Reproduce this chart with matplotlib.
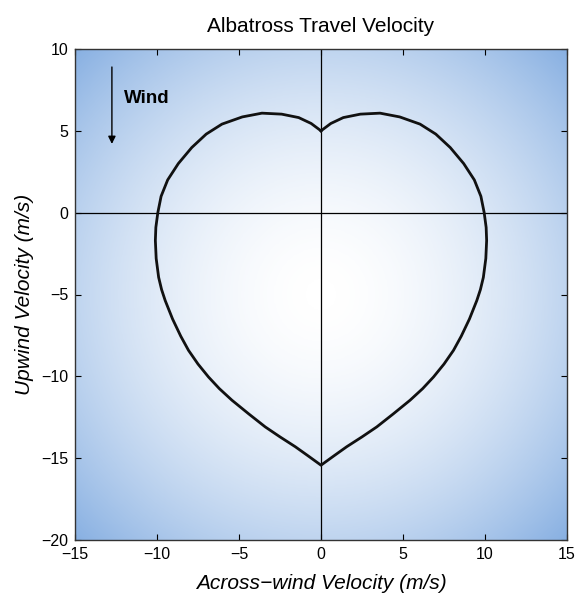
import numpy as np
import matplotlib.pyplot as plt
from matplotlib.colors import LinearSegmentedColormap

plt.rcParams['font.family'] = ['Liberation Sans', 'DejaVu Sans']

# right half of the heart curve, top cusp -> bottom cusp
half_x = [0.0, 0.6, 1.36, 2.4, 3.6, 4.8, 6.04, 7.0, 7.88, 8.7, 9.35, 9.75, 9.95,
          10.07, 10.1, 10.05, 9.9, 9.72, 9.5, 9.05, 8.55, 8.08, 7.5, 6.86, 6.2, 5.43,
          4.4, 3.4, 2.5, 1.57, 0.8, 0.0]
half_y = [5.0, 5.45, 5.81, 6.02, 6.08, 5.85, 5.41, 4.8, 3.98, 3.0, 2.0, 1.0, 0.0,
          -0.9, -1.7, -2.8, -3.95, -4.7, -5.37, -6.5, -7.55, -8.41, -9.25, -10.04, -10.75, -11.46,
          -12.3, -13.09, -13.7, -14.3, -14.85, -15.43]

xticks = [-15, -10, -5, 0, 5, 10, 15]
yticks = [-20, -15, -10, -5, 0, 5, 10]

# full closed curve: right half then mirrored left half
hx = np.array(half_x)
hy = np.array(half_y)
curve_x = np.concatenate([hx, -hx[::-1]])
curve_y = np.concatenate([hy, hy[::-1]])

fig = plt.figure(figsize=(5.75, 5.95), dpi=100)
ax = fig.add_axes([75 / 575, 1 - 540 / 595, 492 / 575, 491 / 595])

# radial background gradient, white in the middle, blue at corners
gx, gy = np.meshgrid(np.linspace(-1, 1, 400), np.linspace(-1, 1, 400))
r = np.sqrt(gx ** 2 + gy ** 2) / np.sqrt(2)
cmap = LinearSegmentedColormap.from_list('bg', ['#ffffff', '#88b0e2'])
ax.imshow(r ** 1.8, cmap=cmap, vmin=0, vmax=1, extent=[-15, 15, -20, 10],
          aspect='auto', origin='lower', zorder=0, interpolation='bilinear')

ax.axhline(0, color='black', linewidth=0.9, zorder=1)
ax.axvline(0, color='black', linewidth=0.9, zorder=1)

ax.plot(curve_x, curve_y, color='#111111', linewidth=2.0, zorder=2,
        solid_joinstyle='round')

ax.annotate('', xy=(-12.75, 4.2), xytext=(-12.75, 8.9),
            arrowprops=dict(arrowstyle='-|>', color='black', lw=1.0,
                            mutation_scale=11, shrinkA=0, shrinkB=0))
ax.text(-12.0, 7.0, 'Wind', fontsize=13.5, fontweight='bold', va='center', ha='left')

ax.set_xlim(-15, 15)
ax.set_ylim(-20, 10)
ax.set_xticks(xticks)
ax.set_yticks(yticks)
ax.tick_params(direction='in', top=True, right=True, length=4, width=0.8,
               labelsize=11.5, pad=5)
for s in ax.spines.values():
    s.set_linewidth(1.0)
    s.set_color('#333333')

ax.set_xlabel('Across\u2212wind Velocity (m/s)', fontsize=15, style='italic', labelpad=9)
ax.set_ylabel('Upwind Velocity (m/s)', fontsize=15, style='italic', labelpad=5)
ax.set_title('Albatross Travel Velocity', fontsize=15, pad=12)

fig.savefig('out.png', dpi=100)
